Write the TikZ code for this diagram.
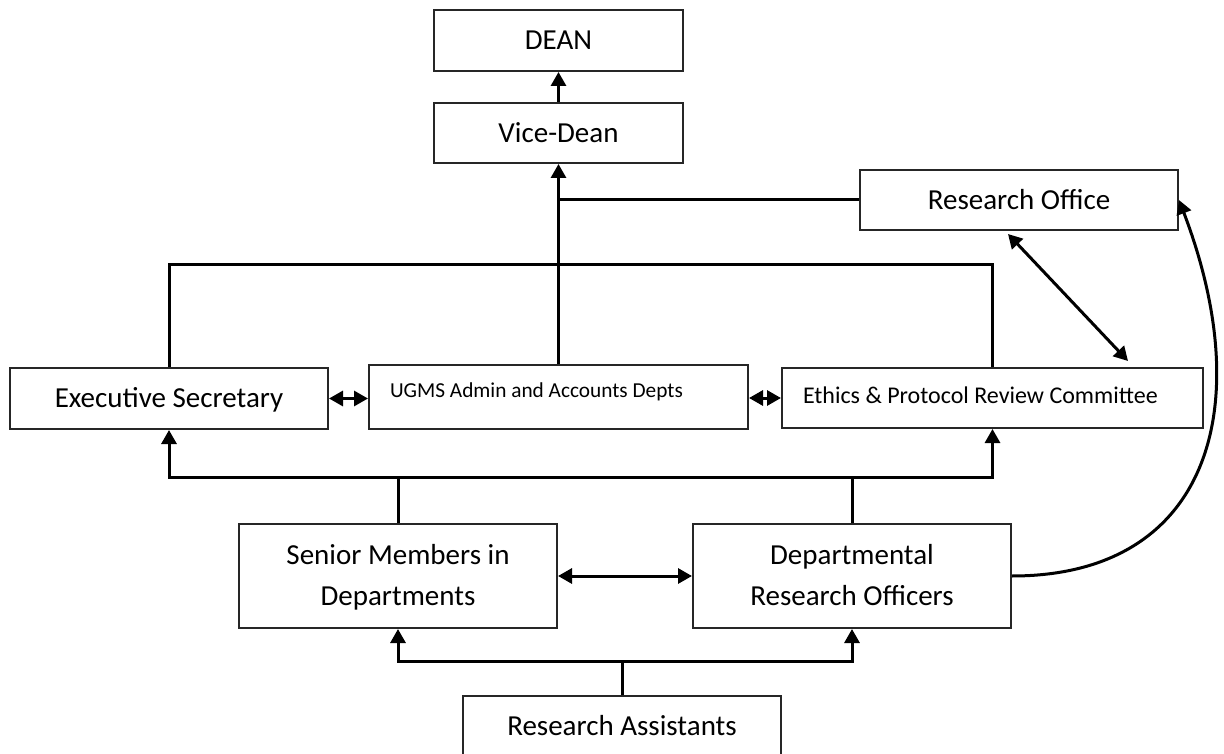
\documentclass[tikz,border=0pt]{standalone}
\usepackage{fontspec}
\setmainfont{Carlito}
\usetikzlibrary{arrows.meta,calc}
\begin{document}
\begin{tikzpicture}[x=1pt,y=-1pt,
  box/.style={draw=black!85, line width=2pt, inner sep=0pt,
    font=\fontsize{29}{41}\selectfont, text height=18.7pt, text depth=0pt, align=center},
  twoline/.style={text height=59.7pt, text depth=0pt},
  conn/.style={line width=3pt, line join=miter},
  >={Triangle[length=14pt,width=15pt]}
]
\useasboundingbox (0,0) rectangle (1224,754);

\node[box, minimum width=249pt, minimum height=61pt] (dean) at (558.5,40.5) {DEAN};
\node[box, minimum width=249pt, minimum height=60pt] (vice) at (558.5,133) {Vice-Dean};
\node[box, minimum width=318pt, minimum height=60pt] (ro) at (1019,200) {Research Office};
\node[box, minimum width=318pt, minimum height=61pt] (exec) at (169,398.5) {Executive Secretary};
\node[box, minimum width=379pt, minimum height=64pt, font=\fontsize{21.3}{26}\selectfont,
  text height=13.7pt, text depth=13pt, text width=337pt, align=flush left] (ugms) at (558.5,397) {UGMS Admin and Accounts Depts};
\node[box, minimum width=421pt, minimum height=60pt, font=\fontsize{24}{29}\selectfont,
  text height=15.5pt, text depth=4pt, text width=379pt, align=flush left] (ethics) at (992.5,398) {Ethics \& Protocol Review Committee};
\node[box, twoline, minimum width=318pt, minimum height=104pt] (senior) at (398,576) {Senior Members in\\Departments};
\node[box, twoline, minimum width=318pt, minimum height=104pt] (dro) at (852,576) {Departmental\\Research Officers};
\node[box, minimum width=318pt, minimum height=61pt] (ra) at (622,726.5) {Research Assistants};

\coordinate (topbar) at (0,265);
\coordinate (midbar) at (0,477);
\coordinate (lowbar) at (0,661);
\coordinate (roA) at (1008,234);
\coordinate (ethA) at (1128,361);

\draw[conn,->] (vice.north) -- (dean.south);
\draw[conn,->] (ugms.north) -- (vice.south);
\draw[conn] (vice.south |- ro.west) -- (ro.west);
\draw[conn] (exec.north) -- (exec.north |- topbar) -- (ethics.north |- topbar) -- (ethics.north);
\draw[conn,<->] (exec.east) -- (exec.east -| ugms.west);
\draw[conn,<->] (ugms.east |- ethics.west) -- (ethics.west);
\draw[conn,<->] (roA) -- (ethA);
\draw[conn,<->] (exec.south) -- (exec.south |- midbar) -- (ethics.south |- midbar) -- (ethics.south);
\draw[conn] (senior.north) -- (senior.north |- midbar);
\draw[conn] (dro.north) -- (dro.north |- midbar);
\draw[conn,<->] (senior.east) -- (dro.west);
\draw[conn,<->] (senior.south) -- (senior.south |- lowbar) -- (dro.south |- lowbar) -- (dro.south);
\draw[conn] (ra.north) -- (ra.north |- lowbar);
\draw[conn,->] (dro.east) .. controls +(195,0) and +(80,210) .. (ro.east);
\end{tikzpicture}
\end{document}
